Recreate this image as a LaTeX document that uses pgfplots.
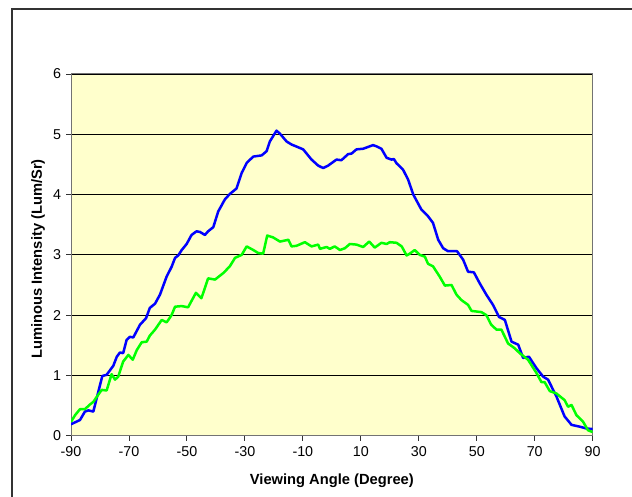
\documentclass[border=0pt]{standalone}
\usepackage{pgfplots}
\pgfplotsset{compat=1.18}
\usepackage{fontspec}
\setmainfont{Liberation Sans}
\definecolor{bgyellow}{RGB}{255,255,204}
\definecolor{cblue}{RGB}{0,0,255}
\definecolor{cgreen}{RGB}{0,255,0}
\pgfplotstableread{
x y
-90 0.19
-86.9 0.26
-85.2 0.40
-84 0.42
-82.3 0.40
-79.2 0.99
-77.7 1.01
-75.4 1.16
-74.2 1.31
-73.1 1.38
-72 1.37
-70.8 1.59
-69.7 1.64
-68.5 1.63
-66.2 1.84
-64.1 1.95
-62.8 2.12
-61.0 2.19
-59.3 2.34
-57.0 2.64
-55.3 2.80
-54.1 2.95
-53.0 2.99
-51.8 3.08
-50.1 3.18
-48.4 3.33
-46.7 3.39
-45.5 3.38
-43.8 3.33
-42.7 3.39
-40.9 3.46
-39.2 3.72
-36.9 3.92
-35.2 4.01
-32.9 4.10
-31.1 4.36
-29.3 4.53
-27.1 4.63
-24.2 4.65
-22.5 4.72
-21.4 4.88
-19.1 5.06
-17.9 5.01
-15.6 4.88
-13.9 4.83
-9.9 4.75
-7.0 4.58
-4.7 4.48
-3.0 4.44
-1.3 4.48
1.6 4.58
3.3 4.57
5.6 4.67
6.8 4.68
8.5 4.75
10.8 4.76
14.2 4.82
15.4 4.80
17.1 4.76
18.9 4.61
20.6 4.58
21.4 4.59
22.3 4.52
24.6 4.41
26.3 4.25
28.1 4.00
30.9 3.75
33.2 3.64
34.9 3.53
36.7 3.25
38.4 3.11
40.1 3.06
43.2 3.06
45.3 2.92
47.0 2.72
49.0 2.71
51.0 2.53
53.3 2.34
55.6 2.17
57.7 1.97
59.7 1.92
62.0 1.56
64.3 1.51
66.0 1.29
68.0 1.31
70.6 1.12
72.9 0.98
74.6 0.93
77.5 0.65
80.3 0.32
82.7 0.18
85.5 0.15
87.8 0.12
90 0.11
}\blueseries
\pgfplotstableread{
x y
-90 0.23
-88.6 0.34
-86.9 0.44
-85.2 0.44
-83.4 0.52
-82.3 0.56
-80.6 0.68
-79.4 0.76
-77.7 0.75
-76.0 1.02
-74.8 0.93
-73.7 0.98
-72.0 1.23
-70.2 1.34
-68.7 1.26
-67.3 1.42
-65.6 1.55
-63.9 1.56
-62.8 1.66
-61.0 1.76
-58.7 1.92
-57.0 1.88
-55.3 2.00
-54.1 2.14
-51.8 2.15
-49.6 2.13
-46.9 2.37
-45.0 2.28
-42.7 2.61
-40.3 2.59
-37.4 2.70
-35.2 2.81
-33.4 2.95
-31.1 3.00
-29.4 3.14
-27.1 3.08
-25.4 3.03
-23.7 3.02
-22.3 3.32
-20.3 3.29
-17.9 3.22
-15.0 3.25
-13.9 3.14
-12.2 3.15
-9.3 3.21
-7.0 3.14
-4.7 3.17
-4.1 3.10
-1.8 3.13
-0.7 3.10
1.0 3.14
2.8 3.08
4.5 3.11
6.2 3.18
8.5 3.17
10.8 3.13
12.9 3.22
14.8 3.12
17.1 3.20
18.9 3.18
20.0 3.21
22.3 3.20
24.1 3.14
25.8 2.99
26.9 3.02
28.6 3.08
30.3 3.00
32.1 2.97
33.2 2.85
34.9 2.81
37.2 2.64
39.0 2.49
41.3 2.50
43.0 2.34
44.7 2.25
47.0 2.17
48.2 2.07
51.6 2.05
53.3 2.00
55.0 1.84
56.8 1.76
58.5 1.76
60.8 1.53
63.1 1.45
64.8 1.37
67.7 1.26
70.6 1.04
72.3 0.89
73.4 0.89
75.2 0.74
77.5 0.70
80.3 0.59
81.5 0.48
82.7 0.51
84.4 0.34
86.7 0.23
88.4 0.09
90 0.06
}\greenseries
\begin{document}
\fontsize{14.3}{17}\selectfont
\begin{tikzpicture}[x=1pt,y=1pt]
\path[use as bounding box] (0,0) rectangle (632,497);
\fill[white] (0,0) rectangle (632,497);
\draw[line width=1.6pt, black!80] (12,0) -- (12,488) -- (632,488);
\begin{axis}[
  at={(71pt,61.3pt)}, anchor=south west, scale only axis,
  width=521.7pt, height=361.7pt,
  xmin=-90, xmax=90, ymin=0, ymax=6,
  xtick={-90,-70,...,90}, ytick={0,1,...,6},
  axis background/.style={fill=bgyellow},
  axis line style={gray!90!black, line width=1pt},
  tick style={black!80, line width=0.9pt},
  tick align=outside, major tick length=5pt,
  tick pos=left,
  ymajorgrids, grid style={black, line width=0.8pt},
  /pgf/number format/assume math mode=true,
  xticklabel style={yshift=-1pt},
  xlabel={\fontsize{14.7}{17}\selectfont\bfseries Viewing Angle (Degree)},
  ylabel={\fontsize{14.7}{17}\selectfont\bfseries Luminous Intensity (Lum/Sr)},
  every axis x label/.style={at={(axis description cs:0.5,-0.125)}, anchor=center},
  every axis y label/.style={at={(axis description cs:-0.0633,0.489)}, anchor=center, rotate=90},
]
\addplot[cblue, line width=2.5pt, line join=round] table[x=x,y=y] {\blueseries};
\addplot[cgreen, line width=2.5pt, line join=round] table[x=x,y=y] {\greenseries};
\end{axis}
\end{tikzpicture}
\end{document}
